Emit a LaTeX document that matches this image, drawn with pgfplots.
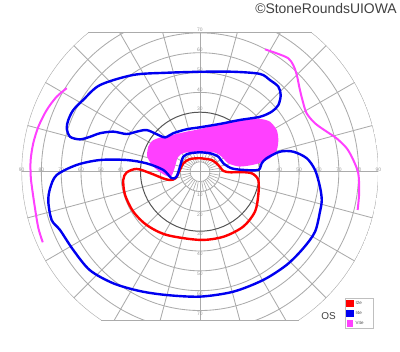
\documentclass[border=0pt]{standalone}
\usepackage{pgfplots}
\pgfplotsset{compat=1.18}
\usepackage{fontspec}
\setmainfont{Liberation Sans}
\definecolor{gridgray}{HTML}{ABABAB}
\definecolor{ringdark}{HTML}{555555}
\definecolor{vblue}{HTML}{0000F0}
\definecolor{vred}{HTML}{FF0000}
\definecolor{vmag}{HTML}{FF40FF}
\begin{document}
\begin{tikzpicture}
\begin{scope}[x=1.983bp,y=1.983bp]
  \begin{scope}
    \clip (-91,-75) rectangle (91,70);
    \clip (0,0) circle (90);
    \foreach \r in {10,20,40,50,60,70,80,90} \draw[gridgray, line width=0.85bp] (0,0) circle (\r);
    \draw[gridgray, line width=0.7bp] (0,0) circle (5);
    \foreach \a in {15,30,...,345} \draw[gridgray, line width=0.85bp] (\a:10) -- (\a:95);
    \foreach \a in {0,10,...,350} \draw[gridgray, line width=0.6bp] (\a:5) -- (\a:10);
    \draw[gridgray, line width=0.85bp] (-95,0) -- (95,0);
    \draw[gridgray, line width=0.85bp] (0,-95) -- (0,95);
    \draw[ringdark, line width=1bp] (0,0) circle (30);
  \end{scope}
  \draw[gridgray, line width=1bp] (-56.57,70) -- (56.57,70);
  \draw[gridgray, line width=1bp] (-49.75,-75) -- (49.75,-75);
  \begin{scope}[font=\fontsize{5}{5}\selectfont, text=black!40, inner sep=0pt]
    \foreach \r in {40,50,60,70,80,90} {
      \node at (-\r,0.8) {\r};
      \node at (\r,0.8) {\r};
    }
    \foreach \r in {10,20,30,40,50,60,70} {
      \node at (0,-\r-1.5) {\r};
      \node at (0,\r+1.5) {\r};
    }
  \end{scope}
\end{scope}
\begin{axis}[
  at={(0,0)}, anchor=origin,
  x=1.983bp, y=1.983bp,
  xmin=-100, xmax=100, ymin=-90, ymax=86,
  hide axis, clip=false,
  legend style={at={(axis cs:73.1,-63.8)}, anchor=north west,
    draw=black!25, line width=0.5bp, fill=white,
    font=\fontsize{4.5}{5}\selectfont, text=black!70,
    inner xsep=1.2bp, inner ysep=1bp, row sep=1.2bp,
    cells={anchor=west}},
  legend cell align=left,
]
% V4e central area (fill)
\addplot[forget plot, draw=none, fill=vmag, smooth, tension=0.45] coordinates {
(-26.1,12.6) (-24.2,15.5) (-20.2,17.2) (-15.1,18.3) (-6.7,20.2) (0,21.5)
(10.1,24.1) (21.8,26.1) (30.3,26.6) (35.3,25.2) (38.7,21.0) (39.5,16.0)
(38.7,10.9) (35.3,6.8) (28.6,3.9) (20.2,2.6) (14.3,4.2) (11.1,7.4)
(7.6,9.6) (0,9.9) (-7.6,9.6) (-11.1,7.4) (-13.1,0.9) (-15.1,-2.7)
(-20.2,-0.2) (-24.2,3.4) (-26.7,7.9) (-26.1,12.6)
};
% I2e
\addplot[vred, line width=2.4bp, smooth, tension=0.5,
  legend image code/.code={\fill[vred] (0bp,-2.4bp) rectangle (4.8bp,2.4bp);}] coordinates {
(0,6.8) (5.9,5.9) (9.2,3.4) (11.8,0.4) (15.1,-0.3) (20.2,-0.2) (26.1,-0.8)
(29.4,-4.2) (29.4,-11.7) (27.7,-20.2) (21.8,-27.7) (11.8,-32.8) (0,-34.4)
(-16.8,-31.9) (-26.9,-26.9) (-33.6,-20.2) (-37.8,-11.7) (-38.7,-4.2)
(-37.0,-0.4) (-31.9,1.4) (-25.2,-0.7) (-18.5,-3.4) (-15.1,-4.2) (-12.4,-3.4)
(-10.9,-0.8) (-8.4,4.2) (-5.0,6.4) (0,6.8)
};
\addlegendentry{\makebox[14bp][l]{I2e}}
% I4e upper island
\addplot[vblue, line width=2.4bp, smooth, tension=0.5,
  legend image code/.code={\fill[vblue] (0bp,-2.4bp) rectangle (4.8bp,2.4bp);}] coordinates {
(0,50.4) (16.8,50.4) (30.3,49.3) (35.3,46.2) (39.5,42.9) (40.7,38.7)
(39.5,33.6) (36.2,30.3) (30.3,27.7) (20.2,26.1) (10.1,24.1) (0,22.4)
(-6.7,21.4) (-13.5,19.4) (-17.6,17.3) (-21.8,18.9) (-26.9,21.0) (-31.9,20.2)
(-37.0,19.0) (-43.7,20.2) (-50.4,19.4) (-55.5,17.6) (-60.5,16.3) (-65.5,17.6)
(-67.2,21.9) (-66.4,26.1) (-63.9,31.1) (-58.9,36.2) (-50.4,43.7) (-33.6,48.8)
(-16.8,49.9) (0,50.4)
};
\addlegendentry{\makebox[14bp][l]{I4e}}
% I4e lower field
\addplot[forget plot, vblue, line width=2.4bp, smooth, tension=0.5] coordinates {
(0,9.8) (5.0,9.3) (9.2,7.6) (11.8,4.2) (16.0,1.7) (21.8,0.9) (29.4,0.9)
(31.1,4.2) (33.6,6.8) (40.3,10.1) (47.0,10.1) (53.8,6.8) (58.0,0.9)
(60.5,-7.6) (61.4,-14.3) (60.5,-20.2) (58.0,-30.3) (52.1,-38.6) (43.7,-47.0)
(31.9,-54.6) (16.8,-60.5) (0,-63.0) (-16.8,-62.2) (-30.3,-60.2) (-43.7,-56.3)
(-55.5,-49.7) (-63.9,-39.5) (-70.6,-29.4) (-74.8,-24.4) (-76.5,-15.1)
(-75.6,-8.4) (-72.3,-1.7) (-62.2,3.4) (-50.4,5.9) (-37.0,5.9) (-26.9,4.2)
(-18.5,0.9) (-14.3,-3.3) (-11.8,-2.5) (-10.1,2.5) (-8.4,7.6) (-5.0,9.3) (0,9.8)
};
% V4e temporal line
\addplot[vmag, line width=2bp, smooth, tension=0.5,
  legend image code/.code={\fill[vmag] (0bp,-2.4bp) rectangle (4.8bp,2.4bp);}] coordinates {
(32.8,61.7) (38.7,59.7) (44.5,57.2) (47.0,53.8) (48.8,48.8) (50.4,41.2)
(52.1,34.5) (53.8,29.4) (58.0,24.4) (63.9,20.2) (68.9,16.8) (74.0,11.8)
(77.3,5.9) (79.8,-0.8) (80.3,-10.1) (79.5,-19.3)
};
\addlegendentry{\makebox[14bp][l]{V4e}}
% V4e nasal line
\addplot[forget plot, vmag, line width=2bp, smooth, tension=0.5] coordinates {
(-67.2,42.1) (-72.3,37.8) (-77.3,31.1) (-81.5,22.7) (-84.1,14.3) (-85.4,5.9)
(-85.4,-1.7) (-84.9,-6.7) (-83.2,-18.5) (-81.5,-28.5) (-79.3,-35.6)
};
\end{axis}
\node[anchor=base east, font=\fontsize{14}{14}\selectfont, text=black!75, inner sep=0pt] at (197bp,158.5bp) {©StoneRoundsUIOWA};
\node[font=\fontsize{10}{10}\selectfont, text=black!75, inner sep=0pt] at (128.5bp,-144.5bp) {OS};
\pgfresetboundingbox
\path[use as bounding box] (-200bp,-180.3bp) rectangle (200bp,171.7bp);
\end{tikzpicture}
\end{document}
